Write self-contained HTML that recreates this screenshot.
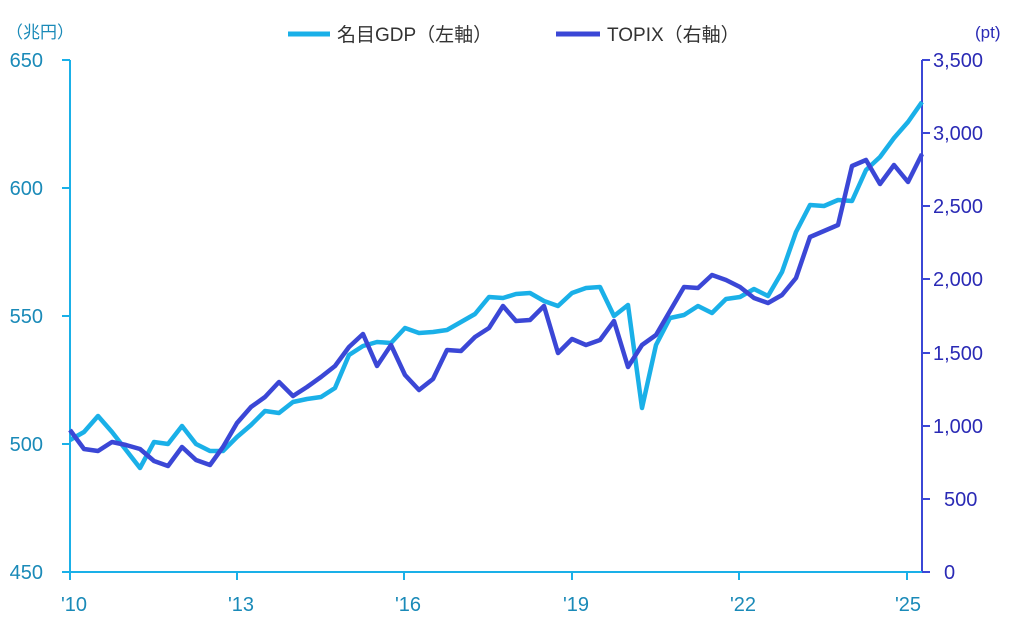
<!DOCTYPE html>
<html><head><meta charset="utf-8"><style>
html,body{margin:0;padding:0;background:#fff;}
svg text{font-family:"Liberation Sans","Noto Sans CJK JP",sans-serif;}
</style></head><body>
<svg width="1012" height="613" viewBox="0 0 1012 613" xmlns="http://www.w3.org/2000/svg">
<rect width="1012" height="613" fill="#fff"/>
<line x1="70" y1="60" x2="70" y2="573" stroke="#1AB0E8" stroke-width="2"/>
<line x1="922" y1="60" x2="922" y2="573" stroke="#3b47d6" stroke-width="2"/>
<line x1="70" y1="572" x2="922" y2="572" stroke="#1AB0E8" stroke-width="2"/>
<g stroke="#1AB0E8" stroke-width="2">
<line x1="62" y1="60" x2="70" y2="60"/><line x1="62" y1="188" x2="70" y2="188"/><line x1="62" y1="316" x2="70" y2="316"/><line x1="62" y1="444" x2="70" y2="444"/><line x1="62" y1="572" x2="70" y2="572"/>
<line x1="70" y1="572" x2="70" y2="580"/><line x1="237" y1="572" x2="237" y2="580"/><line x1="404" y1="572" x2="404" y2="580"/><line x1="572" y1="572" x2="572" y2="580"/><line x1="739" y1="572" x2="739" y2="580"/><line x1="907" y1="572" x2="907" y2="580"/>
</g>
<g stroke="#3b47d6" stroke-width="2">
<line x1="922" y1="60" x2="930" y2="60"/><line x1="922" y1="133" x2="930" y2="133"/><line x1="922" y1="206" x2="930" y2="206"/><line x1="922" y1="279" x2="930" y2="279"/><line x1="922" y1="353" x2="930" y2="353"/><line x1="922" y1="426" x2="930" y2="426"/><line x1="922" y1="499" x2="930" y2="499"/><line x1="922" y1="572" x2="930" y2="572"/>
</g>
<g fill="#1a8ab8" font-size="20" text-anchor="end">
<text x="43" y="67">650</text><text x="43" y="195">600</text><text x="43" y="323">550</text><text x="43" y="451">500</text><text x="43" y="579">450</text>
</g>
<text x="6" y="38" fill="#1a8ab8" font-size="17">（兆円）</text>
<g fill="#2a2ab5" font-size="20">
<text x="933" y="67">3,500</text><text x="933" y="140">3,000</text><text x="933" y="213">2,500</text><text x="933" y="286">2,000</text><text x="933" y="360">1,500</text><text x="933" y="433">1,000</text><text x="944" y="506">500</text><text x="944" y="579">0</text>
</g>
<text x="975" y="38" fill="#2a2ab5" font-size="17">(pt)</text>
<g fill="#1a8ab8" font-size="20" text-anchor="middle">
<text x="74" y="611">'10</text><text x="241" y="611">'13</text><text x="408" y="611">'16</text><text x="576" y="611">'19</text><text x="743" y="611">'22</text><text x="908" y="611">'25</text>
</g>
<line x1="288" y1="34" x2="330" y2="34" stroke="#1AB0E8" stroke-width="5"/>
<text x="337" y="41" fill="#333" font-size="19">名目GDP（左軸）</text>
<line x1="556" y1="34" x2="600" y2="34" stroke="#3b47d6" stroke-width="5"/>
<text x="607" y="41" fill="#333" font-size="19">TOPIX（右軸）</text>
<polyline fill="none" stroke="#1AB0E8" stroke-width="4.5" stroke-linejoin="round" points="70,440 84,432 98,416 112,432 126,450 140,468 154,442 168,444 182,426 196,444 210,451 223,451 237,437 251,425 265,411 279,413 293,402 307,399 321,397 335,388 349,355 363,346 377,342 391,343 405,328 419,333 433,332 447,330 461,322 475,314 489,297 503,298 516,294 530,293 544,301 558,306 572,293 586,288 600,287 614,316 628,305 642,408 656,345 670,318 684,315 698,306 712,313 726,299 740,297 754,289 768,296 782,272 796,232 810,205 824,206 838,200 852,201 866,170 880,157 894,138 908,122 922,102"/>
<polyline fill="none" stroke="#3b47d6" stroke-width="4.5" stroke-linejoin="round" points="70,430 84,449 98,451 112,442 126,445 140,449 154,461 168,466 182,447 196,460 210,465 223,447 237,423 251,407 265,397 279,382 293,396 307,387 321,377 335,366 349,347 363,334 377,366 391,345 405,375 419,390 433,379 447,350 461,351 475,337 489,328 503,306 516,321 530,320 544,306 558,353 572,339 586,345 600,340 614,321 628,367 642,345 656,335 670,311 684,287 698,288 712,275 726,280 740,287 754,298 768,303 782,295 796,278 810,237 824,231 838,225 852,166 866,160 880,184 894,165 908,182 922,154"/>
</svg>
</body></html>
